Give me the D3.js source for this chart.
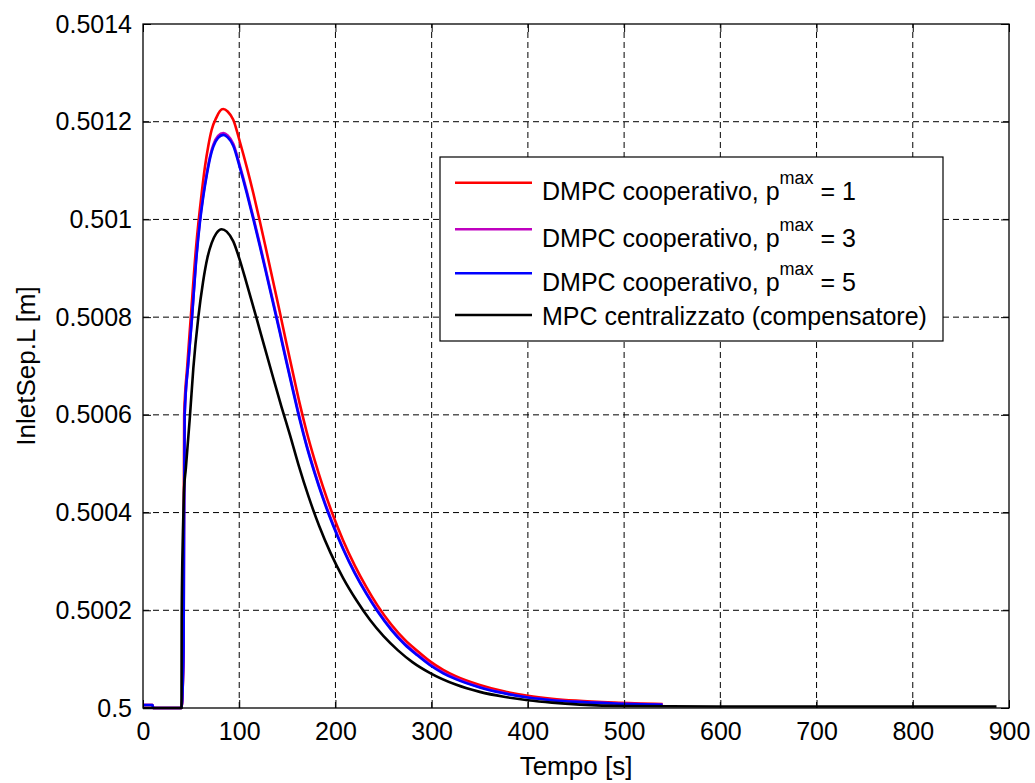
<!DOCTYPE html>
<html>
<head>
<meta charset="utf-8">
<script src="https://cdn.jsdelivr.net/npm/d3@7"></script>
<style>
  html, body { margin: 0; padding: 0; background: #ffffff; }
  svg { display: block; font-family: "Liberation Sans", Arial, sans-serif; }
</style>
</head>
<body>
<svg id="chart" width="1035" height="783"></svg>
<script>
// Livello del separatore d'ingresso (InletSep.L) nel tempo, per i diversi regolatori.
// Ogni serie: coppie [tempo s, livello m].

const seriesNames = [
  "DMPC cooperativo, p|max| = 1",
  "DMPC cooperativo, p|max| = 3",
  "DMPC cooperativo, p|max| = 5",
  "MPC centralizzato (compensatore)"
];
const seriesColors = ["#ff0000", "#bf00bf", "#0000ff", "#000000"];

const levelP1 = [
  [0, 0.500006], [10, 0.500006], [10.5, 0.5], [40, 0.5], [41.5, 0.50006], [42.1, 0.50013],
  [42.4, 0.5004], [42.8, 0.5006], [46, 0.5007], [49.6, 0.500798], [55, 0.50094],
  [61, 0.501054], [64.4, 0.501108], [68, 0.501152], [71.3, 0.501183], [76.6, 0.50121],
  [80, 0.501222], [83.4, 0.501226], [88, 0.501221], [93.8, 0.501204], [100.8, 0.501158],
  [107.7, 0.501108], [114.6, 0.501054], [121, 0.501], [128, 0.500938], [135, 0.500875],
  [142, 0.500812], [149, 0.500747], [156, 0.500684], [163, 0.500622], [170, 0.500566],
  [178, 0.50051], [187, 0.500453], [197, 0.500397], [208, 0.500343], [220, 0.500292],
  [232, 0.500248], [244, 0.500209], [258, 0.500171], [272, 0.50014], [285, 0.500117],
  [298, 0.500096], [312, 0.500078], [325, 0.500065], [350, 0.500047], [375, 0.500034],
  [400, 0.500025], [425, 0.500019], [450, 0.500015], [490, 0.500011], [540, 0.500008]
];

const levelP3 = [
  [0, 0.500006], [10, 0.500006], [10.5, 0.5], [40, 0.5], [41.5, 0.50006], [42.2, 0.50013],
  [42.6, 0.50035], [43.3, 0.5006], [47, 0.500705], [50.9, 0.5008], [55, 0.500913],
  [59.2, 0.500999], [62.5, 0.501049], [66.2, 0.501094], [70, 0.501132], [73.1, 0.501153],
  [78, 0.501171], [83.5, 0.501177], [88, 0.501172], [93.8, 0.501155], [100.8, 0.501109],
  [107.7, 0.501059], [114.6, 0.501005], [121, 0.500953], [128, 0.500894], [135, 0.500834],
  [142, 0.500774], [149, 0.500712], [156, 0.500652], [163, 0.500593], [170, 0.500539],
  [178, 0.500486], [187, 0.500432], [197, 0.500379], [208, 0.500327], [220, 0.500278],
  [232, 0.500236], [244, 0.500199], [258, 0.500162], [272, 0.500132], [285, 0.50011],
  [298, 0.50009], [312, 0.500073], [325, 0.500061], [350, 0.500043], [375, 0.500031],
  [400, 0.500022], [425, 0.5000165], [450, 0.500013], [490, 0.5000095], [540, 0.500007]
];

const levelP5 = [
  [0, 0.500006], [10, 0.500006], [10.5, 0.5], [40, 0.5], [41.5, 0.50006], [42.2, 0.50013],
  [42.6, 0.50035], [43.3, 0.5006], [47, 0.500705], [50.9, 0.500798], [55, 0.50091],
  [59.2, 0.500995], [62.5, 0.501045], [66.2, 0.50109], [70, 0.501128], [73.1, 0.501149],
  [78, 0.501167], [83.5, 0.501173], [88, 0.501168], [93.8, 0.501151], [100.8, 0.501105],
  [107.7, 0.501055], [114.6, 0.501001], [121, 0.500949], [128, 0.50089], [135, 0.50083],
  [142, 0.50077], [149, 0.500708], [156, 0.500648], [163, 0.500589], [170, 0.500536],
  [178, 0.500483], [187, 0.500429], [197, 0.500376], [208, 0.500325], [220, 0.500276],
  [232, 0.500234], [244, 0.500197], [258, 0.50016], [272, 0.50013], [285, 0.500108],
  [298, 0.500088], [312, 0.500071], [325, 0.500059], [350, 0.500042], [375, 0.50003],
  [400, 0.5000215], [425, 0.500016], [450, 0.5000125], [490, 0.5000092], [540, 0.5000068]
];

const levelMPC = [
  [0, 0.5], [40, 0.5], [40.2, 0.500184], [41.5, 0.50036], [42.5, 0.50044], [44.5, 0.50049],
  [46.5, 0.50054], [48.8, 0.500598], [52.3, 0.500695], [57.5, 0.5008], [62.4, 0.500872],
  [67, 0.500922], [71.4, 0.500952], [76, 0.500971], [81.8, 0.50098], [87, 0.500975],
  [93.8, 0.500955], [99.8, 0.500922], [108, 0.500867], [117.4, 0.500802], [126, 0.500741],
  [135, 0.500678], [144, 0.500616], [153, 0.500557], [162, 0.500495], [172, 0.500433],
  [183, 0.500373], [195, 0.500317], [208, 0.500266], [222, 0.50022], [236, 0.50018],
  [250, 0.500147], [265, 0.500118], [280, 0.500094], [298, 0.500072], [325, 0.500048],
  [350, 0.500033], [375, 0.500023], [400, 0.500016], [425, 0.500011], [454, 0.500007],
  [500, 0.500004], [600, 0.500003], [887, 0.500003]
];

const xTicks = [0, 100, 200, 300, 400, 500, 600, 700, 800, 900];
const yTicks = [0.5, 0.5002, 0.5004, 0.5006, 0.5008, 0.501, 0.5012, 0.5014];
const yTickLabels = ["0.5", "0.5002", "0.5004", "0.5006", "0.5008", "0.501", "0.5012", "0.5014"];
const xLabel = "Tempo [s]";
const yLabel = "InletSep.L [m]";

const allSeries = [levelP1, levelP3, levelP5, levelMPC];

const plot = { left: 143, right: 1009, top: 24, bottom: 708 };
const svg = d3.select("#chart");

const x = d3.scaleLinear().domain([0, 900]).range([plot.left, plot.right]);
const y = d3.scaleLinear().domain([0.5, 0.5014]).range([plot.bottom, plot.top]);

// griglia tratteggiata
const grid = svg.append("g");
grid.selectAll("line.gx").data(xTicks.slice(1, -1)).join("line")
  .attr("x1", d => x(d)).attr("x2", d => x(d))
  .attr("y1", plot.bottom).attr("y2", plot.top)
  .attr("stroke", "#000").attr("stroke-width", 1).attr("stroke-dasharray", "6,4");
grid.selectAll("line.gy").data(yTicks.slice(1, -1)).join("line")
  .attr("x1", plot.left).attr("x2", plot.right)
  .attr("y1", d => y(d)).attr("y2", d => y(d))
  .attr("stroke", "#000").attr("stroke-width", 1).attr("stroke-dasharray", "6,4");

// curve
const line = d3.line()
  .x(d => x(d[0]))
  .y(d => y(d[1]))
  .curve(d3.curveMonotoneX);

const curves = svg.append("g");
allSeries.forEach((s, i) => {
  curves.append("path")
    .datum(s)
    .attr("d", line)
    .attr("fill", "none")
    .attr("stroke", seriesColors[i])
    .attr("stroke-width", 2.6)
    .attr("stroke-linejoin", "round");
});

// assi con tacche interne su tutti i lati
const tickLen = 8;
const axisStyle = g => {
  g.select(".domain").remove();
  g.selectAll(".tick line").attr("stroke", "#000").attr("stroke-width", 1);
  g.selectAll(".tick text").attr("fill", "#000").style("font-size", "25px")
    .style("font-family", "'Liberation Sans', Arial, sans-serif");
};

svg.append("g")
  .attr("transform", `translate(0,${plot.bottom})`)
  .call(d3.axisBottom(x).tickValues(xTicks).tickSize(-tickLen).tickPadding(14).tickFormat(d3.format("d")))
  .call(axisStyle)
  .call(g => g.selectAll(".tick text").attr("dy", "0.71em"));

svg.append("g")
  .attr("transform", `translate(0,${plot.top})`)
  .call(d3.axisTop(x).tickValues(xTicks).tickSize(-tickLen).tickFormat(""))
  .call(axisStyle);

svg.append("g")
  .attr("transform", `translate(${plot.left},0)`)
  .call(d3.axisLeft(y).tickValues(yTicks).tickSize(-tickLen).tickPadding(11)
    .tickFormat((d, i) => yTickLabels[i]))
  .call(axisStyle);

svg.append("g")
  .attr("transform", `translate(${plot.right},0)`)
  .call(d3.axisRight(y).tickValues(yTicks).tickSize(-tickLen).tickFormat(""))
  .call(axisStyle);

// cornice
svg.append("rect")
  .attr("x", plot.left).attr("y", plot.top)
  .attr("width", plot.right - plot.left).attr("height", plot.bottom - plot.top)
  .attr("fill", "none").attr("stroke", "#000").attr("stroke-width", 1.3);

// etichette degli assi
svg.append("text")
  .attr("x", (plot.left + plot.right) / 2).attr("y", 775)
  .attr("text-anchor", "middle").style("font-size", "26px").attr("fill", "#000")
  .text(xLabel);

svg.append("text")
  .attr("transform", `translate(35,${(plot.top + plot.bottom) / 2}) rotate(-90)`)
  .attr("text-anchor", "middle").style("font-size", "26px").attr("fill", "#000")
  .text(yLabel);

// legenda
const legend = svg.append("g");
legend.append("rect")
  .attr("x", 440).attr("y", 157).attr("width", 503).attr("height", 184)
  .attr("fill", "#fff").attr("stroke", "#000").attr("stroke-width", 1.2);

const legendRowY = [182.7, 229.3, 273.3, 315];
seriesNames.forEach((name, i) => {
  const ly = legendRowY[i];
  legend.append("line")
    .attr("x1", 455).attr("x2", 532).attr("y1", ly).attr("y2", ly)
    .attr("stroke", seriesColors[i]).attr("stroke-width", 2.6);
  const parts = name.split("|");
  const hasSup = parts.length === 3;
  const t = legend.append("text")
    .attr("x", 542).attr("y", hasSup ? ly + 17.5 : ly + 9.5)
    .style("font-size", "25px").attr("fill", "#000");
  if (hasSup) {
    t.append("tspan").text(parts[0]);
    t.append("tspan").attr("dy", -16).style("font-size", "18px").text(parts[1]);
    t.append("tspan").attr("dy", 16).text(parts[2]);
  } else {
    t.text(name);
  }
});
</script>
</body>
</html>
